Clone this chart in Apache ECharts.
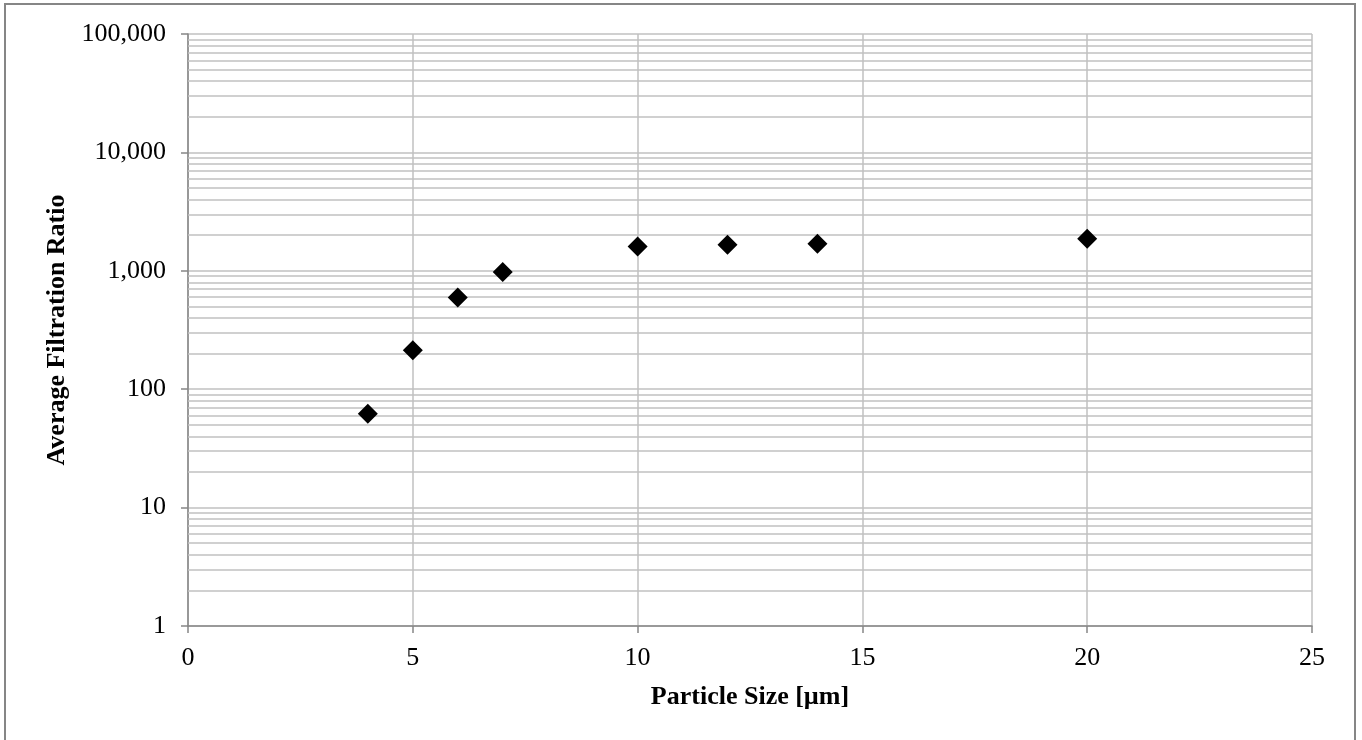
<!DOCTYPE html>
<html>
<head>
<meta charset="utf-8">
<script src="https://cdn.jsdelivr.net/npm/echarts@6/dist/echarts.min.js"></script>
<style>
  html, body { margin: 0; padding: 0; background: #ffffff; }
  #chart { width: 1362px; height: 740px; }
</style>
</head>
<body>
<div id="chart"></div>
<script>
// Average filtration ratio per particle size
const particleSizes = [4, 5, 6, 7, 10, 12, 14, 20];
const filtrationRatios = [62, 213, 596, 975, 1607, 1660, 1693, 1866];

// Axis ranges and tick steps
const xMin = 0, xMax = 25, xStep = 5;
const yMin = 1, yMax = 100000;

// Minor horizontal grid lines at 2..9 within every decade of the log axis
const minorGridValues = [];
for (let d = yMin; d < yMax; d *= 10) {
  for (let m = 2; m <= 9; m++) minorGridValues.push(m * d);
}

const FONT = "'Liberation Serif', 'Times New Roman', serif";
const GRID_COLOR = '#c0c0c0';
const AXIS_COLOR = '#868686';

const chart = echarts.init(document.getElementById('chart'), null, { renderer: 'canvas' });

chart.setOption({
  animation: false,
  backgroundColor: '#ffffff',
  graphic: [{
    type: 'rect',
    shape: { x: 5, y: 4, width: 1350, height: 800 },
    style: { fill: 'none', stroke: AXIS_COLOR, lineWidth: 2 },
    silent: true
  }],
  grid: { left: 188, right: 50, top: 34, bottom: 114, containLabel: false },
  xAxis: {
    type: 'value',
    min: xMin, max: xMax, interval: xStep,
    name: 'Particle Size [µm]',
    nameLocation: 'middle',
    nameGap: 58,
    nameTextStyle: { fontFamily: FONT, fontSize: 26, fontWeight: 'bold', color: '#000' },
    axisLine: { show: true, lineStyle: { color: AXIS_COLOR, width: 1.5 } },
    axisTick: { show: true, inside: false, length: 7, lineStyle: { color: AXIS_COLOR, width: 1.5 } },
    axisLabel: { fontFamily: FONT, fontSize: 26, color: '#000', margin: 19 },
    splitLine: { show: true, lineStyle: { color: GRID_COLOR, width: 1.5 } }
  },
  yAxis: {
    type: 'log',
    logBase: 10,
    min: yMin, max: yMax,
    name: 'Average Filtration Ratio',
    nameLocation: 'middle',
    nameGap: 116,
    nameRotate: 90,
    nameTextStyle: { fontFamily: FONT, fontSize: 26, fontWeight: 'bold', color: '#000' },
    axisLine: { show: true, lineStyle: { color: AXIS_COLOR, width: 1.5 } },
    axisTick: { show: true, inside: false, length: 7, lineStyle: { color: AXIS_COLOR, width: 1.5 } },
    axisLabel: {
      fontFamily: FONT, fontSize: 26, color: '#000', margin: 22,
      formatter: v => Math.round(v).toLocaleString('en-US')
    },
    splitLine: { show: true, lineStyle: { color: GRID_COLOR, width: 1.5 } }
  },
  series: [
    {
      name: 'minor-grid',
      type: 'scatter',
      data: [],
      silent: true,
      z: 1,
      markLine: {
        silent: true,
        symbol: ['none', 'none'],
        label: { show: false },
        lineStyle: { color: GRID_COLOR, width: 1.5, type: 'solid' },
        emphasis: { disabled: true },
        animation: false,
        data: minorGridValues.map(v => ({ yAxis: v }))
      }
    },
    {
      name: 'Average Filtration Ratio',
      type: 'scatter',
      symbol: 'diamond',
      symbolSize: 20,
      z: 5,
      itemStyle: { color: '#000000', opacity: 1 },
      data: particleSizes.map((x, i) => [x, filtrationRatios[i]])
    }
  ]
});
</script>
</body>
</html>
